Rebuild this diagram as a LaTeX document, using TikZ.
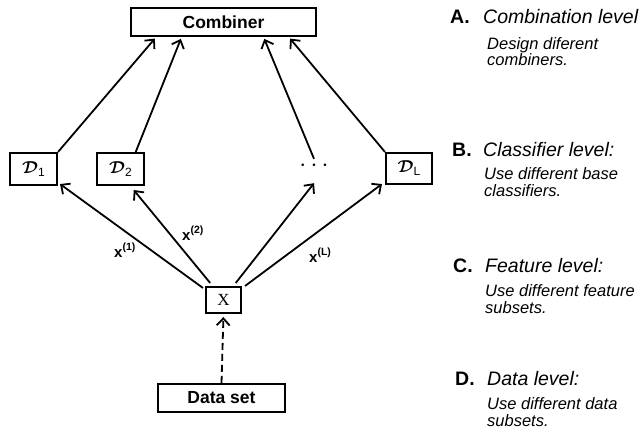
\documentclass[tikz,border=0pt]{standalone}
\usepackage{fontspec}
\setmainfont{Liberation Sans}
\newfontfamily\serifX{Liberation Serif}
\usetikzlibrary{arrows.meta,calc}
\newcommand\dlab[1]{{\fontsize{18}{18}\selectfont\boldmath$\mathcal{D}$}\raisebox{-3pt}{\fontsize{12}{12}\selectfont #1}}
\newcommand\xlab[1]{\textbf{x}\raisebox{6.5pt}{\fontsize{10.5}{11}\selectfont\textbf{(#1)}}}
\begin{document}
\begin{tikzpicture}[x=1pt,y=-1pt,
  box/.style={draw,line width=2.1pt,inner sep=0pt},
  btxt/.style={font=\fontsize{17.5}{20}\selectfont\bfseries},
  arr/.style={line width=1.8pt,-{Straight Barb[length=7pt,width=13pt,line width=1.8pt]}},
  lbl/.style={anchor=base west,inner sep=0pt,font=\fontsize{15}{16}\selectfont},
  letter/.style={anchor=base west,inner sep=0pt,font=\fontsize{19.5}{20}\selectfont\bfseries},
  head/.style={anchor=base west,inner sep=0pt,font=\fontsize{19.5}{20}\selectfont\itshape},
  sub/.style={anchor=base west,inner sep=0pt,font=\fontsize{16.5}{17}\selectfont\itshape}
]
\useasboundingbox (0,0) rectangle (644,436);
% nodes
\node[box,btxt,minimum width=185pt,minimum height=28pt] (comb) at (223.5,22) {Combiner};
\node[box,minimum width=47pt,minimum height=32pt] (d1) at (33.5,169) {\dlab{1}};
\node[box,minimum width=47pt,minimum height=32pt] (d2) at (120.5,169) {\dlab{2}};
\node[box,minimum width=46pt,minimum height=31pt] (dl) at (409,168.5) {\dlab{L}};
\node[inner sep=0pt,minimum width=24pt,minimum height=14pt,font=\fontsize{24}{24}\selectfont] (dots) at (314,166) {$\cdots$};
\node[box,minimum width=35pt,minimum height=26pt,font=\serifX\fontsize{17}{17}\selectfont] (xx) at (223.5,300) {X};
\node[box,btxt,minimum width=127pt,minimum height=28pt] (data) at (221.5,398) {Data set};
% upper connectors
\draw[arr,shorten >=2pt] (d1.north east) -- ($(comb.south west)!0.14!(comb.south east)$);
\draw[arr,shorten >=2pt] ($(d2.north west)!0.81!(d2.north east)$) -- ($(comb.south west)!0.276!(comb.south east)$);
\draw[arr,shorten >=2pt] (dots.north) -- ($(comb.south west)!0.714!(comb.south east)$);
\draw[arr,shorten >=2pt] (dl.north west) -- ($(comb.south west)!0.849!(comb.south east)$);
% lower connectors
\draw[arr] ($(xx.north west)+(-2,2)$) -- ($(d1.south east)+(2,-2)$);
\draw[arr] ($(xx.north west)!0.14!(xx.north east)+(0,-3)$) -- ($(d2.south west)!0.77!(d2.south east)+(0,4)$);
\draw[arr] ($(xx.north west)!0.83!(xx.north east)+(0,-3)$) -- ($(dots.south)+(0,10)$);
\draw[arr] ($(xx.north east)+(3,0)$) -- ($(dl.south west)+(-3,-1)$);
\draw[arr,dash pattern=on 7pt off 4pt,shorten >=3pt] (data.north) -- (xx.south);
% edge labels
\node[lbl] (l1) at (114,257) {\xlab{1}};
\node[lbl] (l2) at (182,240) {\xlab{2}};
\node[lbl] (lL) at (309,262) {\xlab{L}};
% right column
\node[letter] (ta) at (450,24) {A.};
\node[head] (ha) at (483,24) {Combination level};
\node[sub] (sa1) at (487,49) {Design diferent};
\node[sub] (sa2) at (487,66) {combiners.};
\node[letter] (tb) at (452,156) {B.};
\node[head] (hb) at (483,156) {Classifier level:};
\node[sub] (sb1) at (484,179) {Use different base};
\node[sub] (sb2) at (484,196) {classifiers.};
\node[letter] (tc) at (453,272) {C.};
\node[head] (hc) at (485,272) {Feature level:};
\node[sub] (sc1) at (485,296) {Use different feature};
\node[sub] (sc2) at (485,313) {subsets.};
\node[letter] (td) at (455,385) {D.};
\node[head] (hd) at (487,385) {Data level:};
\node[sub] (sd1) at (487,409) {Use different data};
\node[sub] (sd2) at (487,426) {subsets.};
\end{tikzpicture}
\end{document}
